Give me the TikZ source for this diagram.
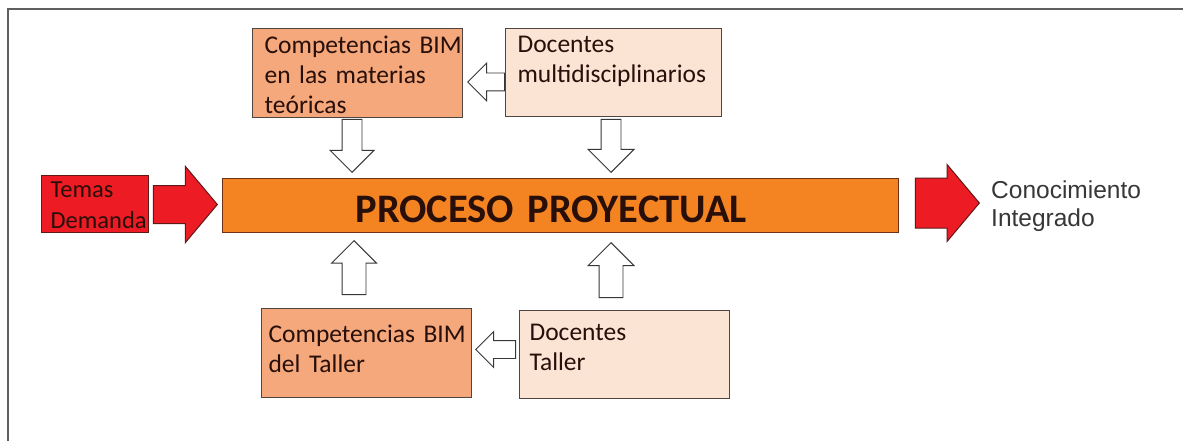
\documentclass[tikz,border=0pt]{standalone}
\usepackage{xcolor}
\definecolor{redfill}{RGB}{237,28,36}
\definecolor{rededge}{RGB}{95,25,25}
\definecolor{barfill}{RGB}{244,131,33}
\definecolor{baredge}{RGB}{110,50,20}
\definecolor{salmon}{RGB}{245,168,123}
\definecolor{peach}{RGB}{252,228,213}
\definecolor{boxedge}{RGB}{80,70,65}
\definecolor{framegray}{RGB}{95,95,95}
\definecolor{txt}{RGB}{40,15,10}
\definecolor{darkgray}{RGB}{55,55,55}
\usepackage{fontspec}
\setmainfont{Carlito}
\newfontfamily\arialfont{Liberation Sans}
\usepackage{tikz}
\usetikzlibrary{shapes.arrows}
\usetikzlibrary{positioning}

\begin{document}
\begin{tikzpicture}[x=1pt,y=-1pt,
  txtbox/.style={draw=boxedge,line width=1.2pt,anchor=north west,inner ysep=0pt,
    align=left,text=txt,font=\fontsize{25.5}{30}\selectfont},
  hollow/.style={single arrow,draw=darkgray,fill=white,line width=0.9pt,
    minimum width=0pt,single arrow head indent=0pt,anchor=tip,inner xsep=0pt},
  redarrow/.style={single arrow,draw=rededge,fill=redfill,line width=1pt,
    minimum width=0pt,single arrow head indent=0pt,single arrow tip angle=100,
    anchor=tip,inner xsep=0pt}]
\useasboundingbox (0,0) rectangle (1183,441);
\fill[white] (0,0) rectangle (1183,441);
\draw[framegray,line width=1.5pt] (8,441) -- (8,9) -- (1183,9);

% main bar
\node (bar) [draw=baredge,fill=barfill,line width=1.2pt,anchor=north west,
  inner xsep=133pt,inner ysep=0pt,text width=410pt,text height=44pt,text depth=10pt,
  align=left,text=txt,font=\fontsize{40.5}{44}\selectfont\bfseries] at (222,178)
  {PROCESO~PROYECTUAL};

% input and output
\node (temas) [txtbox,draw=rededge,fill=redfill,inner xsep=9pt,text width=89pt,
  text height=22pt,text depth=35pt,font=\fontsize{24.5}{31}\selectfont] at (41,175)
  {Temas\\Demanda};
\node (inarr) [redarrow,inner ysep=18.5pt,single arrow head extend=19pt,
  minimum height=64pt] at (218,204.5) {};
\node (outarr) [redarrow,inner ysep=24.5pt,single arrow head extend=13.5pt,
  minimum height=64pt] at (980,203) {};
\node (conoc) [anchor=base west,align=left,inner sep=0pt,text=darkgray,
  font=\arialfont\fontsize{24.5}{28}\selectfont] at (991,226) {Conocimiento\\Integrado};

% upper boxes
\node (teoria) [txtbox,fill=salmon,inner xsep=12pt,text width=186pt,
  text height=25pt,text depth=64pt] at (252,28)
  {Competencias~BIM\\en~las~materias\\teóricas};
\node (multi) [txtbox,fill=peach,inner xsep=12pt,text width=192pt,
  text height=24pt,text depth=64pt] at (505,28)
  {Docentes\\multidisciplinarios};
\node (multi2teoria) [hollow,rotate=180,inner ysep=8.5pt,single arrow head extend=10pt,
  minimum height=37pt] at (467,82) {};
\node (teoria2bar) [hollow,rotate=-90,inner ysep=9.5pt,single arrow head extend=12pt,
  minimum height=53pt] at (352,173) {};
\node (multi2bar) [hollow,rotate=-90,inner ysep=9.5pt,single arrow head extend=13pt,
  minimum height=53pt] at (611,173) {};

% lower boxes
\node (taller) [txtbox,fill=salmon,inner xsep=7pt,text width=196pt,
  text height=34pt,text depth=55pt] at (261,308)
  {Competencias~BIM\\del~Taller};
\node (doctaller) [txtbox,fill=peach,inner xsep=10pt,text width=190pt,
  text height=30pt,text depth=58pt] at (519,310)
  {Docentes\\Taller};
\node (doc2taller) [hollow,rotate=180,inner ysep=8.5pt,single arrow head extend=9pt,
  minimum height=40pt] at (475,349.5) {};
\node (taller2bar) [hollow,rotate=90,inner ysep=11.5pt,single arrow head extend=10.5pt,
  minimum height=54pt] at (354,240) {};
\node (doc2bar) [hollow,rotate=90,inner ysep=11.5pt,single arrow head extend=11pt,
  minimum height=55pt] at (611,242) {};
\end{tikzpicture}
\end{document}
